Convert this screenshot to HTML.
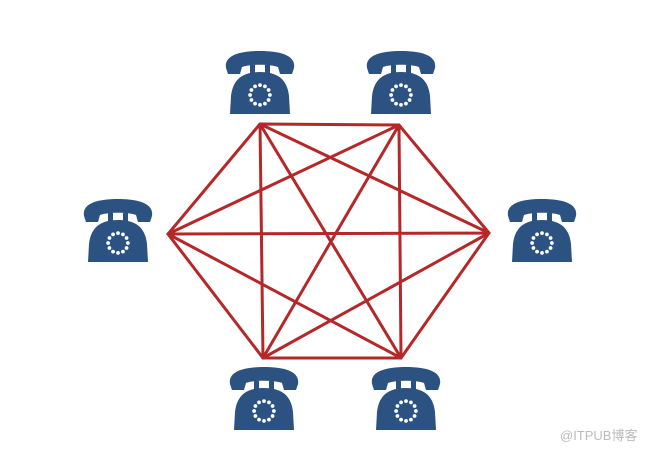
<!DOCTYPE html>
<html><head><meta charset="utf-8"><style>
html,body{margin:0;padding:0;background:#fff;}
svg{display:block}
.wm{position:absolute;left:560px;top:425px;font:13px "Liberation Sans","Noto Sans CJK SC",sans-serif;color:#bbb;}
</style></head><body>
<div style="position:relative;width:652px;height:452px;">
<svg width="652" height="452" viewBox="0 0 652 452">
<defs>
<g id="ph">
  <path d="M-34,-14 C-36,-26 -22,-31 0,-31 C22,-31 36,-26 34,-14 L32,-8 L20,-8 L18,-15 C10,-18 -10,-18 -18,-15 L-20,-8 L-32,-8 Z" fill="#2c5282"/>
  <rect x="-10" y="-17" width="5" height="10" fill="#2c5282"/>
  <rect x="5" y="-17" width="5" height="10" fill="#2c5282"/>
  <path d="M-30,32 L-29,14 C-27,-4 -16,-10 0,-10 C16,-10 27,-4 29,14 L30,32 Z" fill="#2c5282"/>
  <g fill="#fff" transform="translate(0,13) scale(1.1) translate(0,-13)">
    <circle cx="0" cy="4" r="1.7"/><circle cx="4.5" cy="5.2" r="1.7"/><circle cx="7.8" cy="8.5" r="1.7"/>
    <circle cx="9" cy="13" r="1.7"/><circle cx="7.8" cy="17.5" r="1.7"/><circle cx="4.5" cy="20.8" r="1.7"/>
    <circle cx="0" cy="22" r="1.7"/><circle cx="-4.5" cy="20.8" r="1.7"/><circle cx="-7.8" cy="17.5" r="1.7"/>
    <circle cx="-9" cy="13" r="1.7"/><circle cx="-7.8" cy="8.5" r="1.7"/><circle cx="-4.5" cy="5.2" r="1.7"/>
  </g>
</g>
</defs>
<g stroke="#b5282a" stroke-width="3" fill="none" stroke-linecap="round">
<path d="M260,124 L399,125 L489,233 L401,358 L263,358 L168,234 Z"/>
<path d="M260,124 L489,233 M260,124 L401,358 M260,124 L263,358
M399,125 L401,358 M399,125 L263,358 M399,125 L168,234
M489,233 L263,358 M489,233 L168,234 M401,358 L168,234"/>
</g>
<use href="#ph" x="260" y="82"/>
<use href="#ph" x="401" y="82"/>
<use href="#ph" x="118" y="230"/>
<use href="#ph" x="542" y="230"/>
<use href="#ph" x="264" y="398"/>
<use href="#ph" x="406" y="398"/>
</svg>
<div class="wm">@ITPUB博客</div>
</div>
</body></html>
